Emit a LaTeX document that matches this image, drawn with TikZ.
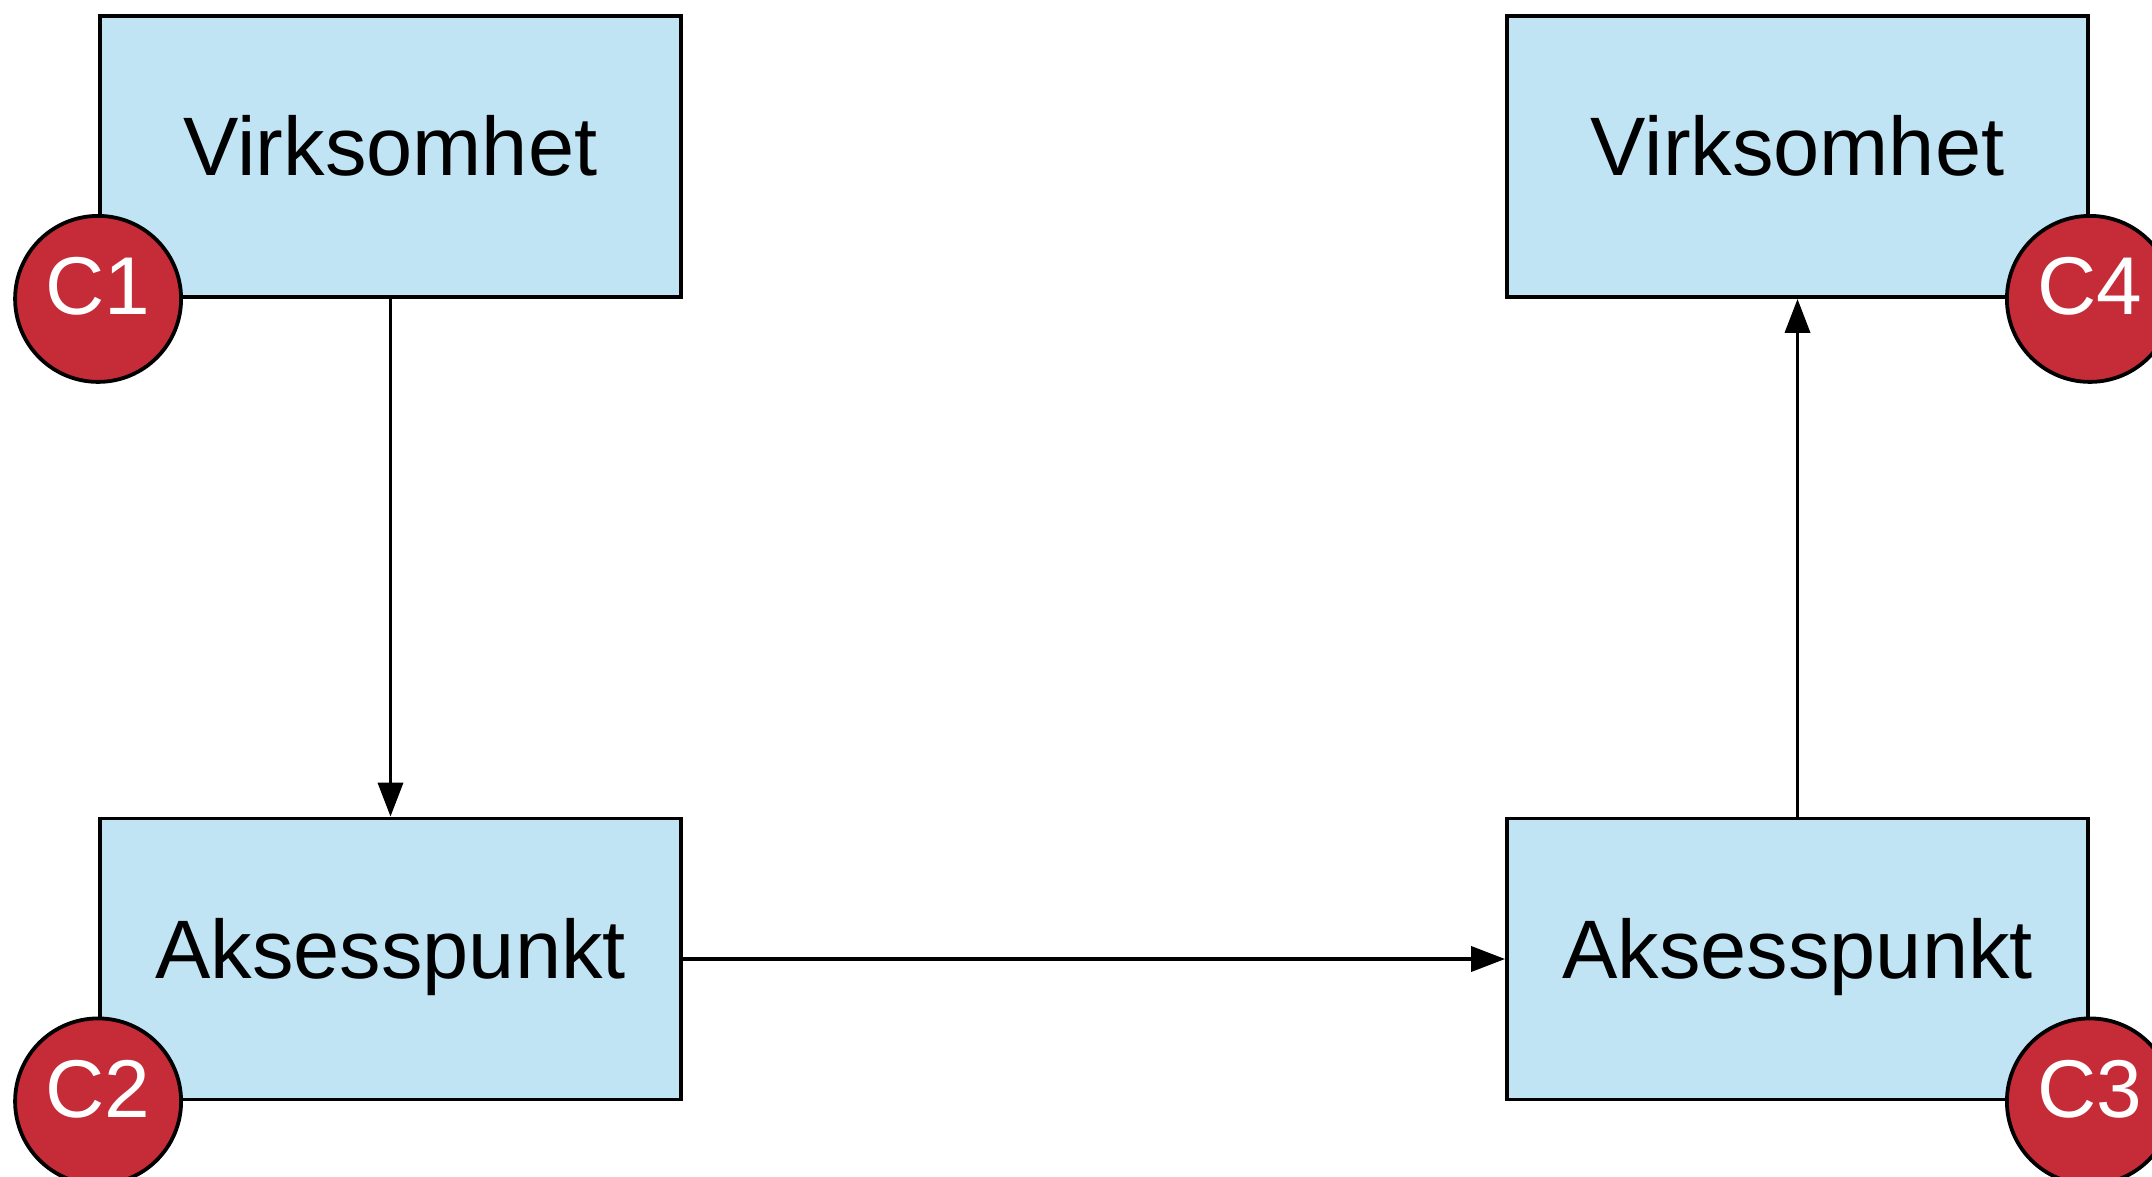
\documentclass[tikz,border=0pt]{standalone}
\usepackage{fontspec}
\setmainfont{Liberation Sans}
\usetikzlibrary{arrows.meta}
\definecolor{boxblue}{RGB}{193,228,245}
\definecolor{badgered}{RGB}{198,44,56}
\begin{document}
\begin{tikzpicture}[x=1pt,y=1pt,
  entity/.style={draw=black, line width=1.9pt, fill=boxblue, minimum width=290.5pt, minimum height=140.5pt,
    inner sep=0pt, text height=29pt, text depth=10pt, font=\fontsize{41.5}{49}\selectfont},
  badge/.style={circle, draw=black, line width=1.9pt, fill=badgered, minimum size=83pt, inner sep=0pt,
    text=white, text height=25pt, text depth=9pt, font=\fontsize{41}{47}\selectfont},
  conn/.style={line width=1.8pt, -{Triangle[length=17pt,width=12.5pt]}}]
\useasboundingbox (0,0) rectangle (1076,-588.5);
\clip (0,0) rectangle (1076,-588.5);
\node[entity] (v1) at (195.25,-78.25) {Virksomhet};
\node[entity] (v2) at (898.75,-78.25) {Virksomhet};
\node[entity] (a1) at (195.25,-479.5) {Aksesspunkt};
\node[entity] (a2) at (898.75,-479.5) {Aksesspunkt};
\draw[conn] (v1.south) -- (a1.north);
\draw[conn] (a1.east) -- (a2.west);
\draw[conn] (a2.north) -- (v2.south);
\node[badge] (c1) at (v1.south west) {C1};
\node[badge] (c2) at (a1.south west) {C2};
\node[badge] (c3) at (a2.south east) {C3};
\node[badge] (c4) at (v2.south east) {C4};
\end{tikzpicture}
\end{document}
